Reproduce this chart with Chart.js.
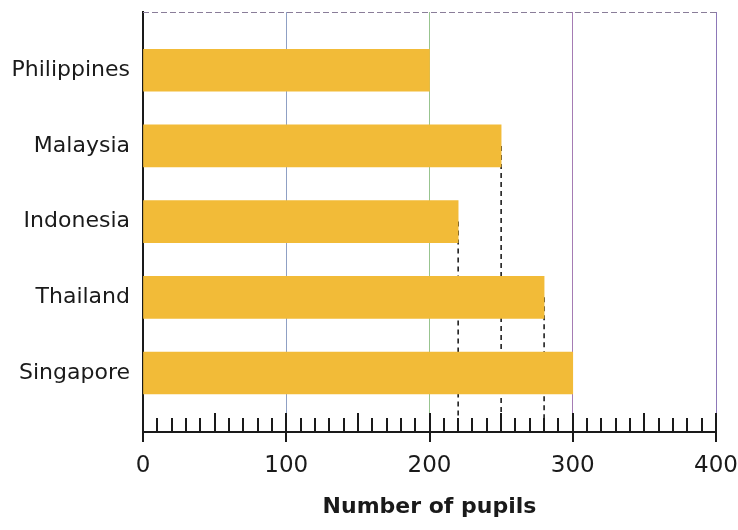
<!DOCTYPE html>
<html>
<head>
<meta charset="utf-8">
<script src="https://cdn.jsdelivr.net/npm/chart.js@4"></script>
<style>
  html, body { margin: 0; padding: 0; background: #fff; }
  #wrap { width: 738px; height: 530px; }
</style>
</head>
<body>
<div id="wrap"><canvas id="pupilsChart"></canvas></div>
<script>
// Data
const countries = ['Philippines', 'Malaysia', 'Indonesia', 'Thailand', 'Singapore'];
const pupils = [200, 250, 220, 280, 300];
const xTickLabels = ['0', '100', '200', '300', '400'];

const barColor = '#f2bb38';
const gridColors = { 100: '#8fa0c4', 200: '#98c48f', 300: '#a57cb4', 400: '#8d78b8' };

// ticks on the axis, dashed drop lines and the dashed top border
const extras = {
  id: 'extras',
  beforeDatasetsDraw(chart) {
    const ctx = chart.ctx;
    const x = chart.scales.x, y = chart.scales.y;
    const area = chart.chartArea;
    ctx.save();
    // dashed top border
    ctx.setLineDash([6, 3]);
    ctx.strokeStyle = '#8a7d99';
    ctx.lineWidth = 1;
    ctx.beginPath();
    ctx.moveTo(area.left, area.top + 0.5);
    ctx.lineTo(area.right, area.top + 0.5);
    ctx.stroke();
    // dashed drop lines from bar ends that are not on a grid line
    ctx.setLineDash([5, 4]);
    ctx.strokeStyle = '#111';
    ctx.lineWidth = 1.5;
    pupils.forEach((v, i) => {
      if (v % 100 === 0) return;
      const px = x.getPixelForValue(v);
      ctx.beginPath();
      ctx.moveTo(px, y.getPixelForValue(i));
      ctx.lineTo(px, area.bottom);
      ctx.stroke();
    });
    ctx.restore();
  },
  afterDatasetsDraw(chart) {
    const ctx = chart.ctx;
    const x = chart.scales.x;
    const base = chart.chartArea.bottom;
    ctx.save();
    ctx.strokeStyle = '#1a1a1a';
    ctx.lineWidth = 2;
    x.ticks.forEach(t => {
      const px = Math.round(x.getPixelForValue(t.value));
      let top = base - 14, bot = base;
      if (t.value % 100 === 0) { top = base - 19; bot = base + 10; }
      else if (t.value % 50 === 0) { top = base - 19; }
      ctx.beginPath();
      ctx.moveTo(px, top);
      ctx.lineTo(px, bot);
      ctx.stroke();
    });
    ctx.restore();
  }
};

const ctx = document.getElementById('pupilsChart').getContext('2d');
new Chart(ctx, {
  type: 'bar',
  data: {
    datasets: [{
      data: pupils.map((v, i) => ({ x: v, y: i })),
      backgroundColor: barColor,
      borderWidth: 0,
      barThickness: 42
    }]
  },
  options: {
    indexAxis: 'y',
    responsive: true,
    maintainAspectRatio: false,
    animation: false,
    layout: { padding: { top: 12, right: 22, left: 0, bottom: 0 } },
    plugins: { legend: { display: false }, tooltip: { enabled: false } },
    scales: {
      x: {
        type: 'linear',
        min: 0,
        max: 400,
        ticks: {
          stepSize: 10,
          autoSkip: false,
          maxRotation: 0,
          padding: 20,
          color: '#1a1a1a',
          font: { family: 'DejaVu Sans', size: 23 },
          callback: v => (v % 100 === 0 ? xTickLabels[v / 100] : '')
        },
        grid: {
          drawTicks: false,
          lineWidth: 1,
          color: c => (c.tick && c.tick.value % 100 === 0 && c.tick.value > 0 ? gridColors[c.tick.value] : 'rgba(0,0,0,0)')
        },
        border: { display: true, color: '#1a1a1a', width: 2 },
        title: {
          display: true,
          text: 'Number of pupils',
          color: '#1a1a1a',
          font: { family: 'DejaVu Sans', size: 22, weight: 'bold' },
          padding: { top: 4, bottom: 10 }
        },
        afterFit: s => { s.height = 98; s.paddingLeft = 0; s.paddingRight = 0; }
      },
      y: {
        type: 'linear',
        reverse: true,
        offset: false,
        min: -0.77,
        max: 4.78,
        afterBuildTicks: s => { s.ticks = countries.map((_, i) => ({ value: i })); },
        ticks: {
          autoSkip: false,
          padding: 13,
          color: '#1a1a1a',
          font: { family: 'DejaVu Sans', size: 22 },
          callback: v => countries[v]
        },
        grid: { display: false, drawTicks: false, tickLength: 0 },
        border: { display: true, color: '#1a1a1a', width: 2 },
        afterFit: s => { s.width = 143; s.paddingTop = 0; s.paddingBottom = 0; }
      }
    }
  },
  plugins: [extras]
});
</script>
</body>
</html>
